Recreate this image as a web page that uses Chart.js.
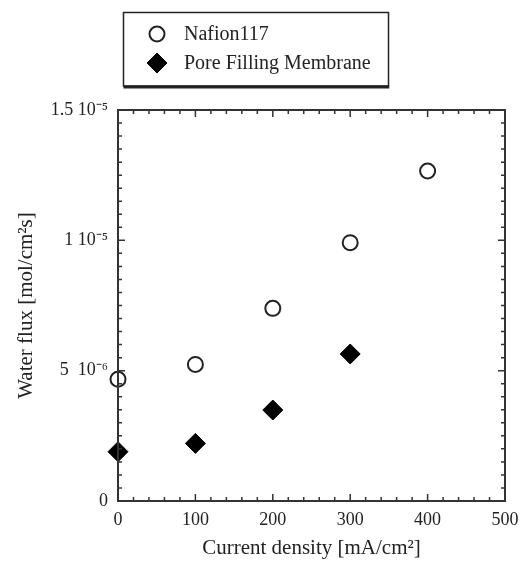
<!DOCTYPE html>
<html>
<head>
<meta charset="utf-8">
<script src="https://cdn.jsdelivr.net/npm/chart.js"></script>
<style>
  html, body { margin: 0; padding: 0; background: #fff; }
  #wrap { width: 520px; height: 561px; }
</style>
</head>
<body>
<div id="wrap"><canvas id="fluxChart" width="520" height="561"></canvas></div>
<script>
// values
const currentDensity = [0, 100, 200, 300, 400];
const nafionFlux = [4.67e-6, 5.24e-6, 7.39e-6, 9.91e-6, 1.266e-5];
const poreCurrent = [0, 100, 200, 300];
const poreFlux = [1.89e-6, 2.21e-6, 3.49e-6, 5.64e-6];

const yTickValues = [0, 5e-6, 1e-5, 1.5e-5];
const yTickLabels = ['0', '5  10\u207B\u2076', '1 10\u207B\u2075', '1.5 10\u207B\u2075'];
const xTickValues = [0, 100, 200, 300, 400, 500];

const seriesNames = ['Nafion117', 'Pore Filling Membrane'];

const FONT = "'Liberation Serif', 'Times New Roman', serif";
const INK = '#222';

function toPoints(xs, ys) {
  return xs.map((x, i) => ({ x: x, y: ys[i] }));
}

function matchTick(v, list, tol) {
  return list.findIndex(t => Math.abs(t - v) < tol);
}

// box around the plot + inward ticks on all four sides
const framePlugin = {
  id: 'frame',
  afterDraw(chart) {
    const { ctx, chartArea: a, scales } = chart;
    ctx.save();
    ctx.strokeStyle = '#333';
    ctx.lineWidth = 1.5;
    scales.x.ticks.forEach(t => {
      const px = scales.x.getPixelForValue(t.value);
      const len = matchTick(t.value, xTickValues, 1e-6) >= 0 ? 7 : 4;
      ctx.beginPath();
      ctx.moveTo(px, a.bottom); ctx.lineTo(px, a.bottom - len);
      ctx.moveTo(px, a.top); ctx.lineTo(px, a.top + len);
      ctx.stroke();
    });
    scales.y.ticks.forEach(t => {
      const py = scales.y.getPixelForValue(t.value);
      const len = matchTick(t.value, yTickValues, 1e-9) >= 0 ? 7 : 4;
      ctx.beginPath();
      ctx.moveTo(a.left, py); ctx.lineTo(a.left + len, py);
      ctx.moveTo(a.right, py); ctx.lineTo(a.right - len, py);
      ctx.stroke();
    });
    ctx.lineWidth = 2;
    ctx.strokeStyle = '#333';
    ctx.strokeRect(a.left, a.top, a.right - a.left, a.bottom - a.top);
    ctx.restore();
  }
};

// boxed legend above the plot, items stacked
const boxLegendPlugin = {
  id: 'boxLegend',
  afterDraw(chart) {
    const ctx = chart.ctx;
    const box = { left: 123.5, top: 12.5, right: 388.5, bottom: 86 };
    ctx.save();
    ctx.strokeStyle = INK;
    ctx.lineWidth = 1.5;
    ctx.strokeRect(box.left, box.top, box.right - box.left, box.bottom - box.top);
    ctx.lineWidth = 3;
    ctx.beginPath();
    ctx.moveTo(box.left, box.bottom + 1);
    ctx.lineTo(box.right + 0.75, box.bottom + 1);
    ctx.stroke();

    const rows = [34, 63];
    chart.data.datasets.forEach((ds, i) => {
      const y = rows[i];
      const x = 157;
      ctx.beginPath();
      if (ds.pointStyle === 'circle') {
        ctx.arc(x, y, ds.pointRadius, 0, Math.PI * 2);
      } else {
        const r = ds.pointRadius;
        ctx.moveTo(x - r, y); ctx.lineTo(x, y - r);
        ctx.lineTo(x + r, y); ctx.lineTo(x, y + r);
        ctx.closePath();
      }
      ctx.fillStyle = ds.pointBackgroundColor;
      ctx.fill();
      ctx.lineWidth = ds.pointBorderWidth;
      ctx.strokeStyle = ds.pointBorderColor;
      ctx.stroke();

      ctx.fillStyle = INK;
      ctx.font = '20px ' + FONT;
      ctx.textAlign = 'left';
      ctx.textBaseline = 'middle';
      ctx.fillText(ds.label, 184, y + 1);
    });
    ctx.restore();
  }
};

new Chart(document.getElementById('fluxChart'), {
  type: 'scatter',
  data: {
    datasets: [
      {
        label: seriesNames[0],
        data: toPoints(currentDensity, nafionFlux),
        pointStyle: 'circle',
        pointRadius: 7.5,
        pointBorderWidth: 2,
        pointBackgroundColor: '#fff',
        pointBorderColor: INK,
        clip: false
      },
      {
        label: seriesNames[1],
        data: toPoints(poreCurrent, poreFlux),
        pointStyle: 'rectRot',
        pointRadius: 10,
        pointBorderWidth: 1,
        pointBackgroundColor: '#000',
        pointBorderColor: '#000',
        clip: false
      }
    ]
  },
  options: {
    responsive: false,
    animation: false,
    devicePixelRatio: 1,
    layout: { padding: { top: 110, right: 15, left: 0, bottom: 0 } },
    plugins: {
      legend: { display: false },
      tooltip: { enabled: false }
    },
    scales: {
      x: {
        type: 'linear',
        min: 0,
        max: 500,
        grid: { display: false, drawTicks: false },
        border: { display: false },
        ticks: {
          stepSize: 20,
          maxTicksLimit: 100,
          autoSkip: false,
          maxRotation: 0,
          padding: 8,
          color: INK,
          font: { family: FONT, size: 18 },
          callback: v => (matchTick(v, xTickValues, 1e-6) >= 0 ? String(v) : '')
        },
        title: {
          display: true,
          text: 'Current density [mA/cm\u00B2]',
          color: INK,
          font: { family: FONT, size: 21 },
          padding: { top: 0, bottom: 0 }
        },
        afterFit(scale) {
          scale.height = 60;
          scale.paddingRight = 0;
          scale.paddingLeft = 0;
        }
      },
      y: {
        type: 'linear',
        min: 0,
        max: 1.5e-5,
        grid: { display: false, drawTicks: false },
        border: { display: false },
        ticks: {
          stepSize: 5e-7,
          maxTicksLimit: 100,
          autoSkip: false,
          padding: 10,
          color: INK,
          font: { family: FONT, size: 18 },
          callback: v => {
            const k = matchTick(v, yTickValues, 1e-9);
            return k >= 0 ? yTickLabels[k] : '';
          }
        },
        title: {
          display: true,
          text: 'Water flux [mol/cm\u00B2s]',
          color: INK,
          font: { family: FONT, size: 21 },
          padding: { top: 14, bottom: 0 }
        },
        afterFit(scale) { scale.width = 118; }
      }
    }
  },
  plugins: [framePlugin, boxLegendPlugin]
});
</script>
</body>
</html>
